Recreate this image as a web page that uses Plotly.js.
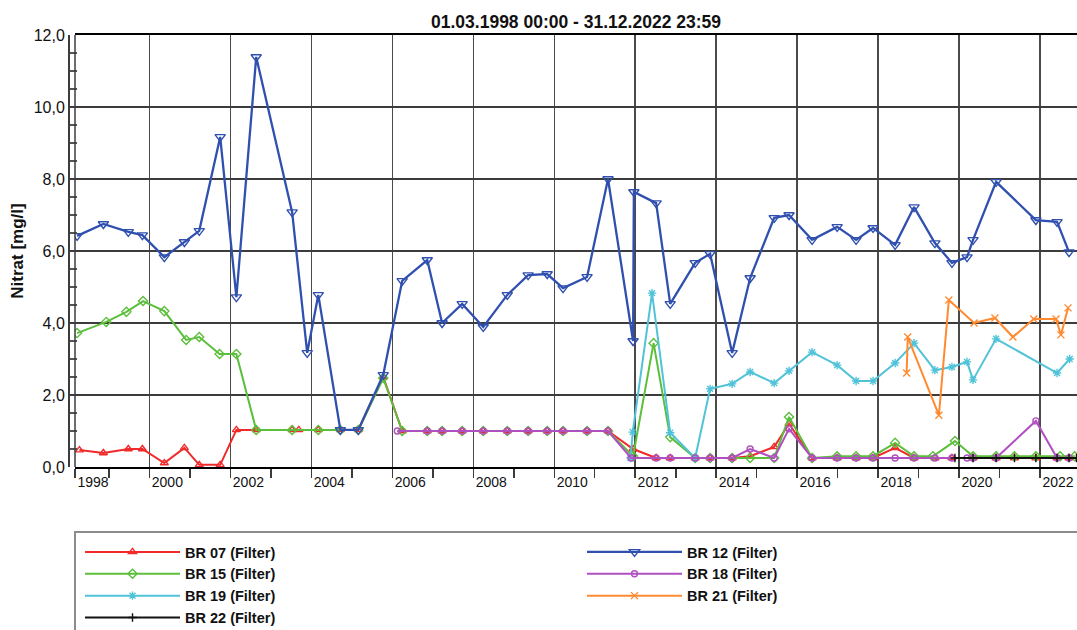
<!DOCTYPE html>
<html>
<head>
<meta charset="utf-8">
<script src="https://cdn.plot.ly/plotly-3.0.1.min.js"></script>
<style>
html,body{margin:0;padding:0;background:#fff;}
#chart{width:1077px;height:630px;}
</style>
</head>
<body>
<div id="chart"></div>
<script>
// ---------------- DATA ----------------
const br07Dates = ['1998-04-10','1998-11-12','1999-06-25','1999-10-30','2000-05-15','2000-11-12','2001-03-26','2001-10-01','2002-02-24','2002-08-22','2003-07-12','2003-09-10','2004-03-04','2004-09-19','2005-02-28','2005-10-11','2006-03-31','2006-11-12','2007-03-26','2007-09-23','2008-03-31','2008-11-03','2009-05-10','2009-10-29','2010-03-21','2010-10-24','2011-05-01','2011-12-13','2012-07-08','2012-11-12','2013-06-25','2013-11-07','2014-05-25','2014-11-03','2015-06-08','2015-10-20','2016-05-15','2016-12-27','2017-06-16','2017-11-16','2018-06-03','2018-11-21','2019-05-28','2019-10-29','2020-05-06','2020-11-30','2021-05-15','2021-11-24','2022-06-03','2022-09-19'];
const br07Values = [0.47,0.39,0.50,0.50,0.11,0.53,0.06,0.06,1.03,1.03,1.03,1.03,1.03,1.03,1.03,2.50,1.00,1.00,1.00,1.00,1.00,1.00,1.00,1.00,1.00,1.00,1.00,0.50,0.25,0.25,0.25,0.25,0.25,0.30,0.56,1.20,0.25,0.25,0.25,0.25,0.53,0.25,0.25,0.25,0.25,0.25,0.25,0.25,0.25,0.25];

const br12Dates = ['1998-03-20','1998-11-12','1999-06-25','1999-10-30','2000-05-15','2000-11-12','2001-03-26','2001-10-01','2002-02-24','2002-08-22','2003-07-12','2003-11-25','2004-03-04','2004-09-19','2005-02-28','2005-10-11','2006-03-31','2006-11-12','2007-03-26','2007-09-23','2008-03-31','2008-11-03','2009-05-10','2009-10-29','2010-03-21','2010-10-24','2011-05-01','2011-12-13','2011-12-20','2012-07-08','2012-11-12','2013-06-25','2013-11-07','2014-05-25','2014-11-03','2015-06-08','2015-10-20','2016-05-15','2016-12-27','2017-06-16','2017-11-16','2018-06-03','2018-11-21','2019-05-28','2019-10-29','2020-03-13','2020-05-06','2020-11-30','2021-11-24','2022-06-03','2022-09-19'];
const br12Values = [6.42,6.75,6.53,6.44,5.83,6.25,6.56,9.17,4.72,11.39,7.08,3.17,4.78,1.03,1.03,2.56,5.17,5.75,4.00,4.53,3.89,4.78,5.33,5.36,4.97,5.28,8.00,3.50,7.64,7.33,4.53,5.67,5.92,3.17,5.25,6.92,7.00,6.31,6.67,6.31,6.64,6.17,7.22,6.22,5.67,5.83,6.31,7.92,6.86,6.81,5.97];

const br15Dates = ['1998-03-20','1998-12-08','1999-06-08','1999-11-05','2000-05-15','2000-11-28','2001-03-26','2001-09-25','2002-02-24','2002-08-22','2003-07-12','2004-03-04','2004-09-19','2005-02-28','2005-10-11','2006-03-31','2006-11-12','2007-03-26','2007-09-23','2008-03-31','2008-11-03','2009-05-10','2009-10-29','2010-03-21','2010-10-24','2011-05-01','2011-12-13','2012-06-15','2012-11-12','2013-06-25','2013-11-07','2014-05-25','2014-11-03','2015-06-08','2015-10-20','2016-05-15','2016-12-27','2017-06-16','2017-11-16','2018-06-03','2018-11-21','2019-05-10','2019-11-25','2020-05-06','2020-11-30','2021-05-15','2021-11-24','2022-07-01','2022-11-10'];
const br15Values = [3.72,4.03,4.31,4.61,4.33,3.53,3.61,3.14,3.14,1.03,1.03,1.03,1.03,1.03,2.47,1.00,1.00,1.00,1.00,1.00,1.00,1.00,1.00,1.00,1.00,1.00,0.30,3.44,0.83,0.25,0.25,0.25,0.25,0.25,1.39,0.25,0.30,0.30,0.30,0.67,0.30,0.30,0.72,0.30,0.30,0.30,0.30,0.30,0.30];

const br18Dates = ['2006-02-15','2006-11-12','2007-03-26','2007-09-23','2008-03-31','2008-11-03','2009-05-10','2009-10-29','2010-03-21','2010-10-24','2011-05-01','2011-11-25','2012-07-08','2012-11-12','2013-06-25','2013-11-07','2014-05-25','2014-11-03','2015-06-08','2015-10-20','2016-05-15','2016-12-27','2017-06-16','2017-11-16','2018-06-03','2018-11-21','2019-05-28','2019-10-29','2020-03-13','2020-05-06','2020-11-30','2021-11-24','2022-06-03','2022-09-19'];
const br18Values = [1.00,1.00,1.00,1.00,1.00,1.00,1.00,1.00,1.00,1.00,1.00,0.25,0.25,0.25,0.25,0.25,0.25,0.50,0.25,1.06,0.25,0.25,0.25,0.25,0.25,0.25,0.25,0.25,0.25,0.25,0.25,1.28,0.25,0.25];

const br19Dates = ['2011-11-20','2011-12-10','2012-06-01','2012-11-12','2013-06-25','2013-11-07','2014-05-25','2014-11-03','2015-06-08','2015-10-20','2016-05-15','2016-12-27','2017-06-16','2017-11-16','2018-06-03','2018-11-21','2019-05-28','2019-10-29','2020-03-13','2020-05-06','2020-11-30','2022-06-03','2022-09-25'];
const br19Values = [0.25,0.97,4.83,0.95,0.25,2.17,2.31,2.64,2.33,2.67,3.19,2.83,2.39,2.39,2.89,3.44,2.69,2.78,2.92,2.42,3.56,2.61,3.00];

const br21Dates = ['2018-09-15','2018-09-25','2019-07-03','2019-10-01','2020-05-15','2020-11-20','2021-05-01','2021-11-05','2022-05-25','2022-07-08','2022-09-10'];
const br21Values = [2.61,3.61,1.44,4.64,4.00,4.14,3.61,4.11,4.11,3.67,4.42];

const br22Dates = ['2019-11-25','2020-05-06','2020-11-30','2021-05-15','2021-11-24','2022-06-03','2022-09-19','2022-11-25'];
const br22Values = [0.25,0.25,0.25,0.25,0.25,0.25,0.25,0.25];

const seriesNames = ['BR 07 (Filter)','BR 12 (Filter)','BR 15 (Filter)','BR 18 (Filter)','BR 19 (Filter)','BR 21 (Filter)','BR 22 (Filter)'];
const xTickVals = ['1998-03-01','2000-01-01','2002-01-01','2004-01-01','2006-01-01','2008-01-01','2010-01-01','2012-01-01','2014-01-01','2016-01-01','2018-01-01','2020-01-01','2022-01-01'];
const xTickLabels = ['1998','2000','2002','2004','2006','2008','2010','2012','2014','2016','2018','2020','2022'];
const chartTitle = '01.03.1998 00:00 - 31.12.2022 23:59';
const yTitle = 'Nitrat [mg/l]';

// ---------------- STYLE ----------------
const W = 1077, H = 630;
const fx = p => p / W;                 // pixel -> paper fraction (margins l=r=0)
const PLOT_TOP = 35, PLOT_BOTTOM = 467;
const fy = p => (PLOT_BOTTOM - p) / (PLOT_BOTTOM - PLOT_TOP);
const SANS = '"Liberation Sans", Arial, sans-serif';
const GRID = '#3c3c3c';

function trace(name, x, y, color, symbol, size, legend, rank, width) {
  return {
    type: 'scatter', mode: 'lines+markers', name: name, x: x, y: y,
    line: {color: color, width: width || 2},
    marker: {symbol: symbol, size: size, color: color, line: {color: color, width: 1.4}},
    legend: legend, legendrank: rank
  };
}

const data = [
  trace(seriesNames[0], br07Dates, br07Values, '#f02a2a', 'triangle-up-open', 7, 'legend', 1),
  trace(seriesNames[2], br15Dates, br15Values, '#5cbf3c', 'diamond-open', 7, 'legend', 2),
  trace(seriesNames[4], br19Dates, br19Values, '#50c3d8', 'asterisk-open', 7, 'legend', 3),
  trace(seriesNames[5], br21Dates, br21Values, '#ff8a30', 'x-thin-open', 7, 'legend2', 3),
  trace(seriesNames[3], br18Dates, br18Values, '#b050c0', 'circle-open', 6, 'legend2', 2),
  trace(seriesNames[6], br22Dates, br22Values, '#111111', 'cross-thin-open', 6, 'legend', 4),
  trace(seriesNames[1], br12Dates, br12Values, '#3050b0', 'triangle-down-open', 9, 'legend2', 1, 2.3)
];

const legendFont = {family: SANS, size: 14.5, weight: 'bold', color: '#111'};

const layout = {
  width: W, height: H,
  margin: {l: 0, r: 0, t: PLOT_TOP, b: H - PLOT_BOTTOM, pad: 0, autoexpand: false},
  paper_bgcolor: '#ffffff', plot_bgcolor: '#ffffff',
  separators: ',.',
  showlegend: true,
  title: {
    text: chartTitle,
    font: {family: SANS, size: 17.5, weight: 'bold', color: '#111'},
    xref: 'paper', x: fx(576), xanchor: 'center',
    yref: 'container', y: 1 - 22 / H, yanchor: 'middle'
  },
  xaxis: {
    type: 'date', domain: [fx(75), 1],
    range: ['1998-03-01', '2022-11-30'],
    tickmode: 'array', tickvals: xTickVals, ticktext: xTickLabels,
    showgrid: true, gridcolor: '#4a4a4a', gridwidth: 1.5,
    zeroline: false,
    showline: true, linecolor: '#000', linewidth: 2, mirror: true,
    ticks: 'outside', ticklen: 9, tickwidth: 1.5, tickcolor: GRID,
    ticklabelshift: 18, ticklabelstandoff: -8,
    tickfont: {family: SANS, size: 14, color: '#111'},
    minor: {tick0: '1999-01-01', dtick: 'M24', ticks: 'outside', ticklen: 9, tickwidth: 1.5, tickcolor: GRID, showgrid: false}
  },
  yaxis: {
    range: [0, 12], anchor: 'free', position: fx(68),
    tick0: 0, dtick: 2, tickformat: '.1f',
    showgrid: true, gridcolor: GRID, gridwidth: 1.5,
    zeroline: false,
    showline: true, linecolor: GRID, linewidth: 1.5,
    ticks: 'inside', ticklen: 7, tickwidth: 1.2, tickcolor: GRID,
    tickfont: {family: SANS, size: 16, color: '#111'},
    minor: {dtick: 0.5, ticks: 'inside', ticklen: 7, tickwidth: 1.2, tickcolor: '#555', showgrid: false},
    title: {text: yTitle, font: {family: SANS, size: 17, weight: 'bold', color: '#111'}, standoff: 4}
  },
  legend: {
    orientation: 'v', x: fx(80), xanchor: 'left', y: fy(536), yanchor: 'top',
    bgcolor: 'rgba(0,0,0,0)', borderwidth: 0, itemwidth: 95,
    font: legendFont, tracegroupgap: 0, itemclick: false
  },
  legend2: {
    orientation: 'v', x: fx(582), xanchor: 'left', y: fy(536), yanchor: 'top',
    bgcolor: 'rgba(0,0,0,0)', borderwidth: 0, itemwidth: 95,
    font: legendFont, tracegroupgap: 0, itemclick: false
  },
  shapes: [
    {type: 'line', xref: 'paper', yref: 'paper', x0: fx(75), x1: fx(75), y0: 0, y1: 1,
     line: {color: GRID, width: 1.5}},
    {type: 'rect', xref: 'paper', yref: 'paper', x0: fx(75), x1: 1.02, y0: fy(532), y1: fy(700),
     line: {color: '#8c8c8c', width: 2}, fillcolor: 'rgba(0,0,0,0)', layer: 'below'}
  ]
};

Plotly.newPlot('chart', data, layout, {displayModeBar: false, staticPlot: true});
</script>
</body>
</html>
